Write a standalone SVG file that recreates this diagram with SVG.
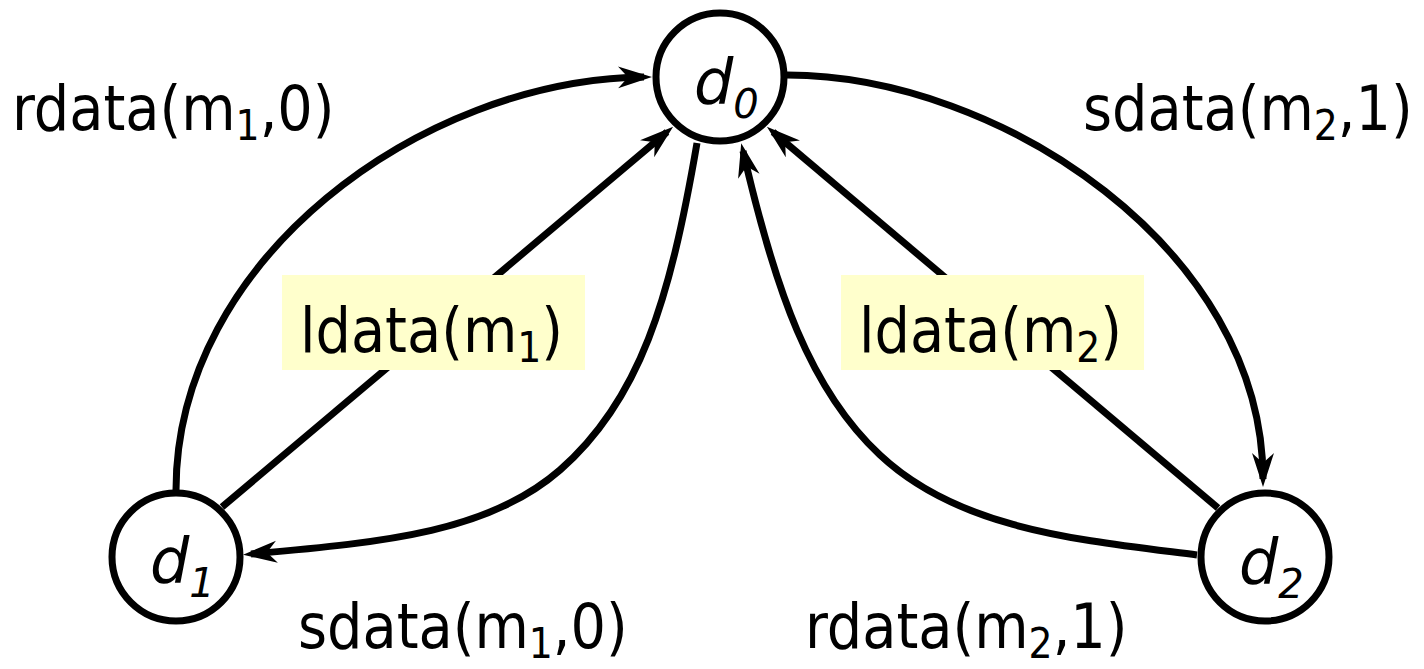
<svg xmlns="http://www.w3.org/2000/svg" width="1424" height="669" viewBox="0 0 1424 669">
<style>
.node{fill:#fff;stroke:#000;stroke-width:7}
.edge{fill:none;stroke:#000;stroke-width:7}
.lbl{font-family:"DejaVu Sans Condensed","DejaVu Sans",Verdana,sans-serif;font-stretch:condensed;font-size:62px;fill:#000}
.sub{font-size:42px}
.nl{font-family:"DejaVu Sans",Verdana,sans-serif;font-size:62px;font-style:italic;fill:#000}
.box{fill:#ffffcc}
</style>
<defs>
<marker id="ah" markerUnits="userSpaceOnUse" markerWidth="44" markerHeight="30" viewBox="0 -15 44 30" refX="26" refY="0" orient="auto">
<path d="M0,-11 L34,0 L0,11 L10,0 Z" fill="#000"/>
</marker>
</defs>
<g id="connectors">
<path class="edge" d="M176,490 C176,260 420,80 644,77" marker-end="url(#ah)"/>
<path class="edge" d="M222,507 L667,132" marker-end="url(#ah)"/>
<path class="edge" d="M697,143 C670,300 640,400 560,470 C490,531 390,542 251,554" marker-end="url(#ah)"/>
<path class="edge" d="M1197,555 C1080,540 960,530 880,455 C810,390 775,290 743,151" marker-end="url(#ah)"/>
<path class="edge" d="M1218,508 L773,132" marker-end="url(#ah)"/>
<path class="edge" d="M787,75 C1000,75 1263,250 1263,479" marker-end="url(#ah)"/>
</g>
<g id="label-ldata-m1">
<rect class="box" x="282" y="275" width="303" height="95"/>
<text class="lbl" x="300" y="352">ldata(m<tspan class="sub" dy="10">1</tspan><tspan dy="-10">)</tspan></text>
</g>
<g id="label-ldata-m2">
<rect class="box" x="841" y="275" width="303" height="95"/>
<text class="lbl" x="859" y="352">ldata(m<tspan class="sub" dy="10">2</tspan><tspan dy="-10">)</tspan></text>
</g>
<g id="labels">
<text class="lbl" x="12" y="130">rdata(m<tspan class="sub" dy="10">1</tspan><tspan dy="-10">,0)</tspan></text>
<text class="lbl" x="1083" y="130">sdata(m<tspan class="sub" dy="10">2</tspan><tspan dy="-10">,1)</tspan></text>
<text class="lbl" x="298" y="648">sdata(m<tspan class="sub" dy="10">1</tspan><tspan dy="-10">,0)</tspan></text>
<text class="lbl" x="805" y="648">rdata(m<tspan class="sub" dy="10">2</tspan><tspan dy="-10">,1)</tspan></text>
</g>
<g id="d0">
<circle class="node" cx="720" cy="77" r="64"/>
<text class="nl" x="694" y="103">d<tspan font-size="40" dy="15">0</tspan></text>
</g>
<g id="d1">
<circle class="node" cx="176" cy="557" r="64"/>
<text class="nl" x="150" y="582">d<tspan font-size="40" dy="15">1</tspan></text>
</g>
<g id="d2">
<circle class="node" cx="1265" cy="557" r="64"/>
<text class="nl" x="1239" y="583">d<tspan font-size="40" dy="15">2</tspan></text>
</g>
</svg>
